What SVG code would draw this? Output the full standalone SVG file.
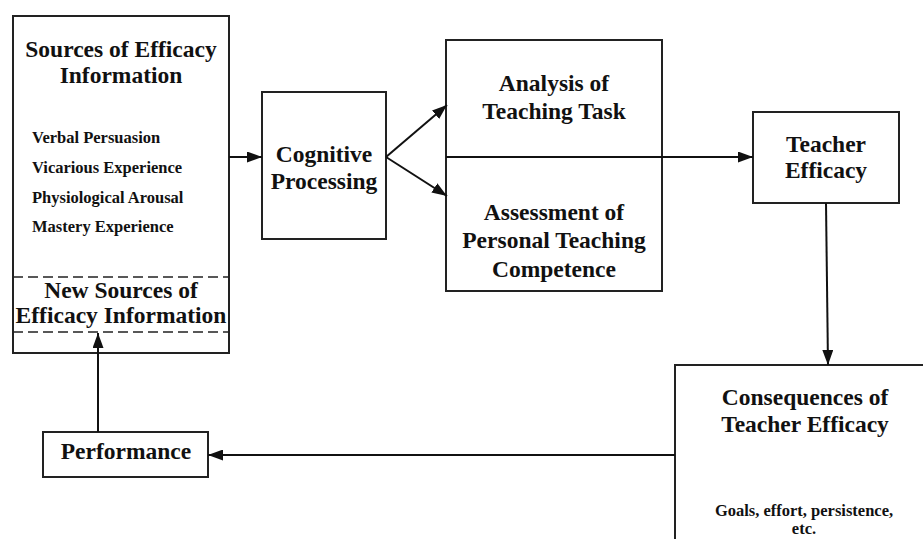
<svg xmlns="http://www.w3.org/2000/svg" width="923" height="539" viewBox="0 0 923 539">
<style>
.box{fill:#fff;stroke:#222;stroke-width:2}
.dash{fill:none;stroke:#222;stroke-width:1.6;stroke-dasharray:10 5}
.t{font-family:"Liberation Serif","Times New Roman",serif;font-weight:bold;fill:#111;font-size:23.5px;text-anchor:middle}
.s{font-family:"Liberation Serif","Times New Roman",serif;font-weight:bold;fill:#111;font-size:16.5px}
.sc{text-anchor:middle}
.c{fill:none;stroke:#111;stroke-width:2}
</style>
<defs>
<marker id="ah" viewBox="0 0 15 11" refX="15" refY="5.5" markerWidth="15" markerHeight="11" markerUnits="userSpaceOnUse" orient="auto">
<path d="M0,0 L15,5.5 L0,11 Z" fill="#111"/>
</marker>
</defs>
<rect width="923" height="539" fill="#fff"/>
<g id="sources">
<rect class="box" x="13" y="16" width="216" height="337"/>
<text class="t" x="121" y="57">Sources of Efficacy</text>
<text class="t" x="121" y="83">Information</text>
<text class="s" x="32" y="143">Verbal Persuasion</text>
<text class="s" x="32" y="173">Vicarious Experience</text>
<text class="s" x="32" y="203">Physiological Arousal</text>
<text class="s" x="32" y="232">Mastery Experience</text>
<line class="dash" x1="13" y1="277" x2="229" y2="277"/>
<line class="dash" x1="13" y1="332" x2="229" y2="332"/>
<text class="t" x="121" y="298">New Sources of</text>
<text class="t" x="121" y="323">Efficacy Information</text>
</g>
<g id="cognitive">
<rect class="box" x="262" y="92" width="124" height="147"/>
<text class="t" x="324" y="162">Cognitive</text>
<text class="t" x="324" y="189">Processing</text>
</g>
<g id="analysis">
<rect class="box" x="446" y="40" width="216" height="251"/>
<line class="c" x1="446" y1="157" x2="662" y2="157"/>
<text class="t" x="554" y="91">Analysis of</text>
<text class="t" x="554" y="119">Teaching Task</text>
<text class="t" x="554" y="220">Assessment of</text>
<text class="t" x="554" y="248">Personal Teaching</text>
<text class="t" x="554" y="277">Competence</text>
</g>
<g id="teacher">
<rect class="box" x="753" y="112" width="146" height="91"/>
<text class="t" x="826" y="152">Teacher</text>
<text class="t" x="826" y="178">Efficacy</text>
</g>
<g id="consequences">
<rect class="box" x="675" y="365" width="260" height="200"/>
<text class="t" x="805" y="405">Consequences of</text>
<text class="t" x="805" y="432">Teacher Efficacy</text>
<text class="s sc" x="804" y="516">Goals, effort, persistence,</text>
<text class="s sc" x="804" y="534">etc.</text>
</g>
<g id="performance">
<rect class="box" x="43" y="432" width="165" height="45"/>
<text class="t" x="126" y="459">Performance</text>
</g>
<g id="connectors">
<line class="c" x1="229" y1="157" x2="262" y2="157" marker-end="url(#ah)"/>
<line class="c" x1="386" y1="157" x2="447" y2="105" marker-end="url(#ah)"/>
<line class="c" x1="386" y1="157" x2="447" y2="196" marker-end="url(#ah)"/>
<line class="c" x1="662" y1="157" x2="753" y2="157" marker-end="url(#ah)"/>
<line class="c" x1="826" y1="203" x2="828" y2="365" marker-end="url(#ah)"/>
<line class="c" x1="675" y1="455" x2="208" y2="455" marker-end="url(#ah)"/>
<line class="c" x1="98" y1="432" x2="98" y2="333" marker-end="url(#ah)"/>
</g>
</svg>
